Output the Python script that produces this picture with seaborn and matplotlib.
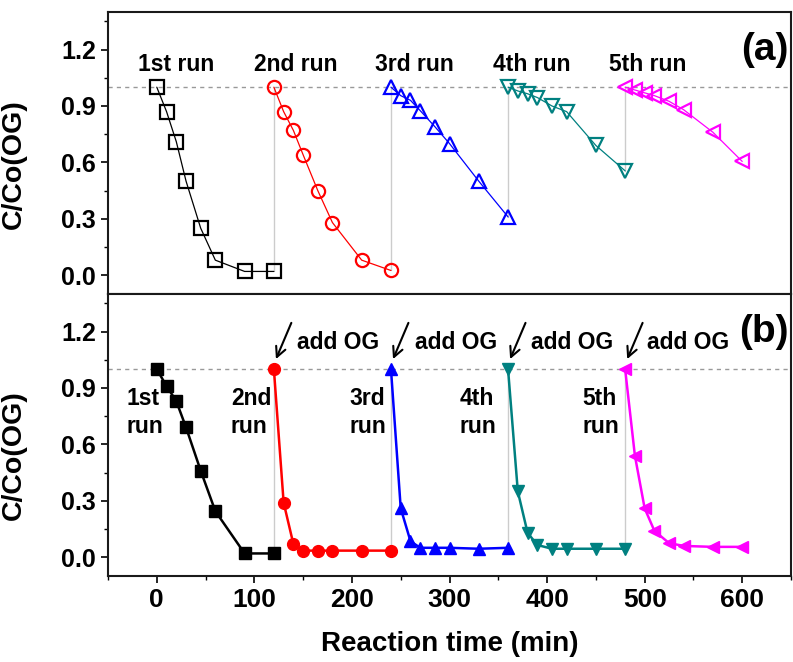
import matplotlib
matplotlib.use("Agg")
import matplotlib.pyplot as plt
from matplotlib.ticker import MultipleLocator
import seaborn as sns
import pandas as pd

# ---------------- data ----------------
t_run1 = [0, 10, 20, 30, 45, 60, 90, 120]
t_run2 = [120, 130, 140, 150, 165, 180, 210, 240]
t_run3 = [240, 250, 260, 270, 285, 300, 330, 360]
t_run4 = [360, 370, 380, 390, 405, 420, 450, 480]
t_run5 = [480, 490, 500, 510, 525, 540, 570, 600]

# panel (a)
a_run1 = [1.00, 0.87, 0.71, 0.50, 0.25, 0.08, 0.02, 0.02]
a_run2 = [1.00, 0.87, 0.77, 0.64, 0.45, 0.28, 0.08, 0.025]
a_run3 = [1.00, 0.955, 0.93, 0.875, 0.79, 0.70, 0.50, 0.31]
a_run4 = [1.00, 0.98, 0.965, 0.945, 0.90, 0.87, 0.69, 0.555]
a_run5 = [1.00, 0.985, 0.97, 0.955, 0.925, 0.88, 0.76, 0.605]

# panel (b)
b_run1 = [1.00, 0.91, 0.83, 0.69, 0.46, 0.245, 0.02, 0.02]
b_run2 = [1.00, 0.29, 0.07, 0.035, 0.035, 0.035, 0.035, 0.035]
b_run3 = [1.00, 0.26, 0.085, 0.05, 0.05, 0.05, 0.045, 0.05]
b_run4 = [1.00, 0.35, 0.13, 0.065, 0.045, 0.045, 0.045, 0.045]
b_run5 = [1.00, 0.54, 0.26, 0.14, 0.075, 0.06, 0.055, 0.055]

run_labels_a = ["1st run", "2nd run", "3rd run", "4th run", "5th run"]
run_labels_b = ["1st\nrun", "2nd\nrun", "3rd\nrun", "4th\nrun", "5th\nrun"]
label_x_a = [20, 142, 264, 384, 503]
label_x_b = [-31, 76, 197, 310, 436]
add_x = [144, 265, 384, 502]
add_target_x = [120, 240, 360, 480]

colors = ["#000000", "#FF0000", "#0000FF", "#008080", "#FF00FF"]
markers = ["s", "o", "^", "v", "<"]

times = [t_run1, t_run2, t_run3, t_run4, t_run5]
vals_a = [a_run1, a_run2, a_run3, a_run4, a_run5]
vals_b = [b_run1, b_run2, b_run3, b_run4, b_run5]

# ---------------- style ----------------
sns.set_style("ticks")
plt.rcParams["font.family"] = ["Liberation Sans", "DejaVu Sans"]
plt.rcParams["font.weight"] = "bold"
plt.rcParams["axes.labelweight"] = "bold"
plt.rcParams["text.color"] = "black"
plt.rcParams["axes.labelcolor"] = "black"
plt.rcParams["xtick.color"] = "black"
plt.rcParams["ytick.color"] = "black"
plt.rcParams["axes.edgecolor"] = "black"

fig = plt.figure(figsize=(7.93, 6.62), dpi=100)
ax_a = fig.add_axes([0.1362, 0.5559, 0.8613, 0.4260])
ax_b = fig.add_axes([0.1362, 0.1299, 0.8613, 0.4260])


def style_axes(ax, show_x):
    ax.set_xlim(-50, 650)
    ax.set_ylim(-0.1, 1.4)
    ax.yaxis.set_major_locator(MultipleLocator(0.3))
    ax.yaxis.set_minor_locator(MultipleLocator(0.15))
    ax.xaxis.set_major_locator(MultipleLocator(100))
    ax.xaxis.set_minor_locator(MultipleLocator(50))
    for sp in ax.spines.values():
        sp.set_visible(True)
        sp.set_linewidth(1.5)
        sp.set_color("#1a1a1a")
    ax.tick_params(axis="y", which="major", direction="out", length=5, width=1.2,
                   labelsize=18, left=True, right=False, colors="black")
    ax.tick_params(axis="y", which="minor", direction="out", length=3, width=1.0,
                   left=True, right=False, colors="black")
    ax.tick_params(axis="x", which="both", top=False)
    if show_x:
        ax.tick_params(axis="x", which="major", direction="out", length=5, width=1.2,
                       labelsize=19, bottom=True, colors="black")
        ax.tick_params(axis="x", which="minor", direction="out", length=3, width=1.0,
                       bottom=True, colors="black")
    else:
        ax.tick_params(axis="x", which="both", bottom=False, labelbottom=False)
    for lab in ax.get_yticklabels() + ax.get_xticklabels():
        lab.set_fontweight("bold")
    ax.set_ylabel("C/Co(OG)", fontsize=20.5, fontweight="bold", color="black")
    ax.axhline(1.0, color="#999999", lw=1.0, ls=(0, (3, 3)), zorder=0)


# ---------------- panel (a) ----------------
for i in range(5):
    df = pd.DataFrame({"t": times[i], "c": vals_a[i]})
    sns.lineplot(data=df, x="t", y="c", ax=ax_a, color=colors[i], lw=0.9,
                 marker=markers[i], markersize=9.5, markerfacecolor="none",
                 markeredgecolor=colors[i], markeredgewidth=1.6, sort=False)
    if i > 0:
        ax_a.plot([times[i][0], times[i][0]], [vals_a[i - 1][-1], vals_a[i][0]],
                  color="#cccccc", lw=1.0, zorder=0)
    ax_a.text(label_x_a[i], 1.12, run_labels_a[i], ha="center", va="center",
              fontsize=16.5, fontweight="bold", color="black")
ax_a.text(0.996, 0.865, "(a)", transform=ax_a.transAxes, ha="right", va="center",
          fontsize=28, fontweight="bold", color="black")
style_axes(ax_a, show_x=False)
ax_a.set_xlabel("")
ax_a.yaxis.set_label_coords(-0.119, 0.46)

# ---------------- panel (b) ----------------
for i in range(5):
    df = pd.DataFrame({"t": times[i], "c": vals_b[i]})
    sns.lineplot(data=df, x="t", y="c", ax=ax_b, color=colors[i], lw=1.8,
                 marker=markers[i], markersize=8.5, markerfacecolor=colors[i],
                 markeredgecolor=colors[i], markeredgewidth=1.0, sort=False)
    if i > 0:
        ax_b.plot([times[i][0], times[i][0]], [vals_b[i - 1][-1], vals_b[i][0]],
                  color="#cccccc", lw=1.0, zorder=0)
    ax_b.text(label_x_b[i], 0.77, run_labels_b[i], ha="left", va="center",
              fontsize=16.5, fontweight="bold", linespacing=1.3, color="black")
for j in range(4):
    ax_b.annotate("", xy=(add_target_x[j] + 1, 1.04), xytext=(add_target_x[j] + 19, 1.26),
                  arrowprops=dict(arrowstyle="->", color="black", lw=1.5,
                                  mutation_scale=18))
    ax_b.text(add_x[j], 1.14, "add OG", ha="left", va="center",
              fontsize=16.5, fontweight="bold", color="black")
ax_b.text(0.996, 0.866, "(b)", transform=ax_b.transAxes, ha="right", va="center",
          fontsize=28, fontweight="bold", color="black")
style_axes(ax_b, show_x=True)
ax_b.set_xlabel("Reaction time (min)", fontsize=20, fontweight="bold", labelpad=14,
                color="black")
ax_b.yaxis.set_label_coords(-0.119, 0.43)

fig.savefig("out.png", dpi=100)
